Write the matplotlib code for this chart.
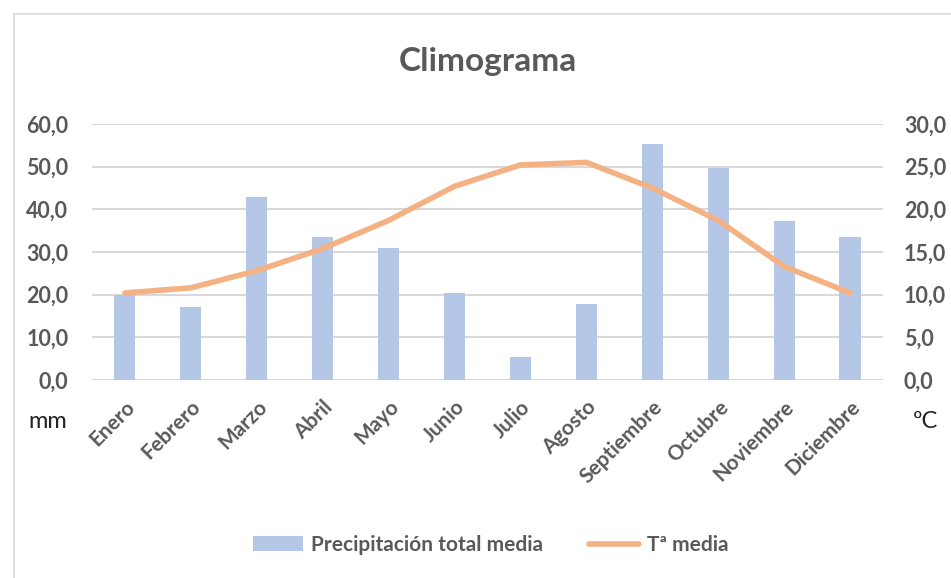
import matplotlib.pyplot as plt
from matplotlib.patches import Rectangle

plt.rcParams['font.family'] = ['Lato', 'DejaVu Sans']

# datos del climograma
meses = ['Enero', 'Febrero', 'Marzo', 'Abril', 'Mayo', 'Junio', 'Julio',
         'Agosto', 'Septiembre', 'Octubre', 'Noviembre', 'Diciembre']
precipitacion = [19.9, 17.2, 42.8, 33.4, 30.9, 20.3, 5.3, 17.8, 55.3, 49.7, 37.2, 33.4]
temperatura = [10.2, 10.8, 12.8, 15.4, 18.7, 22.7, 25.2, 25.5, 22.5, 18.7, 13.3, 10.2]

ticks_mm = [0, 10, 20, 30, 40, 50, 60]
ticks_c = [0, 5, 10, 15, 20, 25, 30]

gris = '#595959'
azul = '#b4c7e7'
naranja = '#f4b183'

fig = plt.figure(figsize=(9.51, 5.78), dpi=100)
fig.patches.append(Rectangle((14 / 951, -0.1), 1.2, 1.1 - 14 / 578,
                             transform=fig.transFigure, fill=False,
                             edgecolor='#d9d9d9', linewidth=1.2))

ax = fig.add_axes([0.0967, 0.3426, 0.8318, 0.4429])
x = range(len(meses))
ax.bar(x, precipitacion, width=0.32, color=azul, zorder=2,
       label='Precipitación total media')
ax.set_ylim(0, 60)
ax.set_yticks(ticks_mm)
ax.set_yticklabels([f'{v:.1f}'.replace('.', ',') for v in ticks_mm])
ax.set_xlim(-0.5, len(meses) - 0.5)
ax.set_xticks(list(x))
ax.set_xticklabels(meses, rotation=45, ha='right', rotation_mode='anchor')
ax.grid(axis='y', color='#d9d9d9', linewidth=1.5, zorder=0)
ax.set_axisbelow(True)
for s in ax.spines.values():
    s.set_visible(False)
ax.tick_params(axis='y', length=0, labelsize=15.5, labelcolor=gris, pad=17)
ax.tick_params(axis='x', length=0, labelsize=15, labelcolor=gris, pad=12)
for t in ax.get_xticklabels() + ax.get_yticklabels():
    t.set_fontweight('bold')

ax2 = ax.twinx()
ax2.plot(x, temperatura, color=naranja, linewidth=4, solid_capstyle='round',
         label='Tª media', zorder=3)
ax2.set_ylim(0, 30)
ax2.set_yticks(ticks_c)
ax2.set_yticklabels([f'{v:.1f}'.replace('.', ',') for v in ticks_c])
for s in ax2.spines.values():
    s.set_visible(False)
ax2.tick_params(length=0, labelsize=15.5, labelcolor=gris, pad=15)
for t in ax2.get_yticklabels():
    t.set_fontweight('bold')

fig.text(488 / 951, 1 - 62 / 578, 'Climograma', ha='center', va='center',
         fontsize=24, fontweight='bold', color=gris)
fig.text(48 / 951, 1 - 421 / 578, 'mm', ha='center', va='center',
         fontsize=17, color='#222222')
fig.text(926 / 951, 1 - 421 / 578, 'ºC', ha='center', va='center',
         fontsize=17, color='#222222')

h1, l1 = ax.get_legend_handles_labels()
h2, l2 = ax2.get_legend_handles_labels()
fig.legend(h1 + h2, l1 + l2, loc='center', bbox_to_anchor=(0.516, 1 - 545 / 578),
           ncol=2, frameon=False, prop={'size': 15, 'weight': 'bold'},
           labelcolor=gris, handlelength=2.4, columnspacing=2.2, handletextpad=0.4)

fig.savefig('out.png', dpi=100)
